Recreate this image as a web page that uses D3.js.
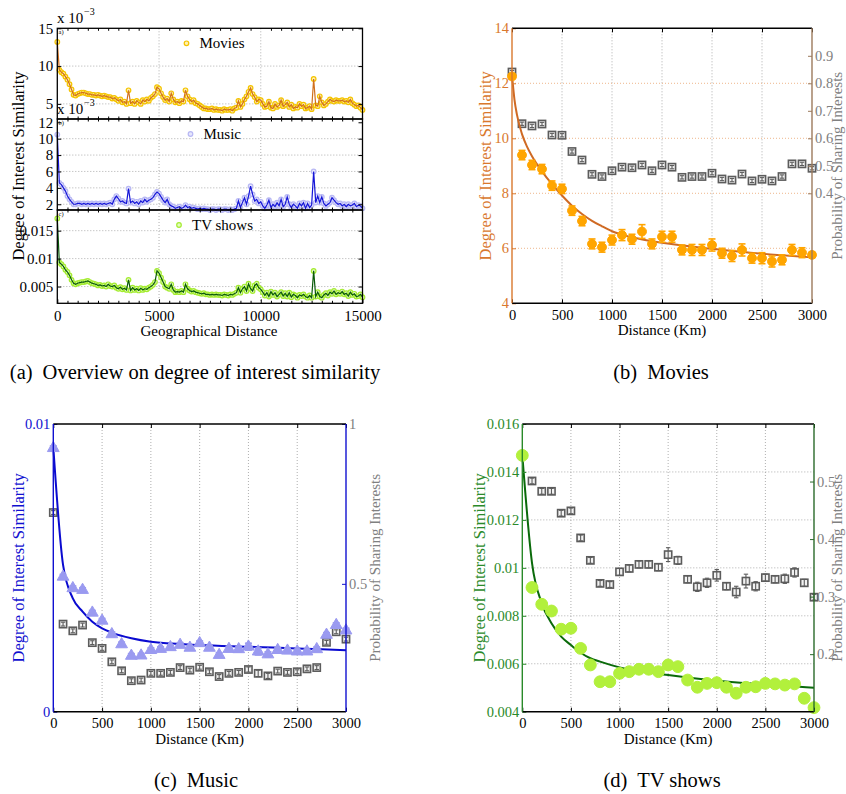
<!DOCTYPE html>
<html><head><meta charset="utf-8">
<script src="https://cdn.jsdelivr.net/npm/d3@7"></script>
<style>
body{margin:0;background:#fff;}
svg{display:block;}
</style></head><body>
<svg id="fig" width="846" height="794"></svg>
<script>
// ---------------- DATA ----------------
// Panel (a): geographical distance (km)
const geoDist = [
0,100,200,300,400,500,600,700,800,900,
1000,1100,1200,1300,1400,1500,1600,1700,1800,1900,
2000,2100,2200,2300,2400,2500,2600,2700,2800,2900,
3000,3100,3200,3300,3400,3500,3600,3700,3800,3900,
4000,4100,4200,4300,4400,4500,4600,4700,4800,4900,
5000,5100,5200,5300,5400,5500,5600,5700,5800,5900,
6000,6100,6200,6300,6400,6500,6600,6700,6800,6900,
7000,7100,7200,7300,7400,7500,7600,7700,7800,7900,
8000,8100,8200,8300,8400,8500,8600,8700,8800,8900,
9000,9100,9200,9300,9400,9500,9600,9700,9800,9900,
10000,10100,10200,10300,10400,10500,10600,10700,10800,10900,
11000,11100,11200,11300,11400,11500,11600,11700,11800,11900,
12000,12100,12200,12300,12400,12500,12600,12700,12800,12900,
13000,13100,13200,13300,13400,13500,13600,13700,13800,13900,
14000,14100,14200,14300,14400,14500,14600,14700,14800,14900,
15000];
// Movies (x 10^-3)
const geoMovies = [
13.2,9.5,9.2,9.0,8.6,8.2,7.6,6.9,6.2,6.1,
6.3,6.4,6.5,6.5,6.4,6.3,6.3,6.2,6.2,6.1,
6.2,6.1,6.0,6.1,6.0,5.9,5.9,5.7,5.8,5.6,
5.4,5.6,5.2,5.3,5.0,6.8,5.1,5.3,5.0,5.4,
5.2,5.0,5.5,5.3,5.6,5.4,5.8,6.0,6.3,7.2,
7.0,6.4,5.9,5.5,5.7,5.3,6.4,5.6,5.2,5.3,
5.1,5.4,5.3,6.8,6.0,5.6,5.3,5.5,5.1,5.0,
4.8,4.6,4.4,4.4,4.3,4.3,4.4,4.2,4.3,4.2,
4.2,4.1,4.3,4.2,4.2,4.3,4.1,4.4,4.5,5.4,
4.6,5.0,5.6,6.0,6.6,7.1,6.3,5.9,5.3,5.6,
5.5,5.0,4.6,4.7,5.3,4.5,4.4,5.0,4.6,4.8,
5.5,4.7,4.9,5.2,4.6,4.9,4.4,4.6,4.5,5.0,
4.7,4.9,4.4,4.5,4.7,4.3,8.3,4.8,4.7,6.0,
5.2,4.8,5.0,5.3,5.6,5.4,5.3,5.5,5.4,5.4,
5.5,5.3,5.4,5.2,5.6,5.1,4.9,4.7,4.8,4.5,
4.2];
// Music (x 10^-3)
const geoMusic = [
10.5,4.6,4.4,4.0,3.6,3.0,2.6,2.3,2.0,2.0,
2.1,2.1,2.0,2.1,2.0,2.1,2.0,2.1,2.0,2.1,
2.0,2.1,2.0,2.1,2.0,2.1,2.2,2.0,2.6,3.0,
2.7,2.3,2.4,2.2,2.1,3.9,2.2,2.4,2.1,2.3,
2.0,2.4,2.2,2.6,2.3,2.5,2.6,2.8,3.2,3.5,
3.3,2.9,2.5,2.2,2.6,2.0,1.8,1.7,1.5,1.6,
1.7,1.5,1.6,1.9,1.6,1.7,1.5,1.6,1.5,1.4,
1.5,1.4,1.5,1.4,1.4,1.3,1.4,1.4,1.3,1.4,
1.4,1.3,1.4,1.4,1.3,1.4,1.3,1.4,1.5,2.4,
1.6,2.2,2.8,2.0,3.0,4.2,3.2,2.4,2.6,2.1,
2.3,1.8,1.5,1.9,2.5,1.6,2.0,1.7,2.2,1.8,
2.6,1.7,2.0,2.9,2.0,1.6,2.0,1.8,1.5,2.1,
1.8,2.2,1.5,2.1,1.6,1.9,6.0,2.2,3.0,2.2,
2.9,2.1,1.8,2.0,2.2,2.8,2.5,2.2,2.0,2.1,
1.8,2.0,1.7,2.0,1.8,1.9,2.1,1.7,1.9,1.8,
1.5];
// TV shows
const geoTV = [
0.0172,0.0093,0.0090,0.0086,0.0080,0.0076,0.0070,0.0062,0.0056,0.0054,
0.0056,0.0057,0.0058,0.0058,0.0059,0.0060,0.0058,0.0056,0.0055,0.0054,
0.0052,0.0053,0.0051,0.0052,0.0050,0.0054,0.0051,0.0050,0.0052,0.0048,
0.0046,0.0049,0.0045,0.0047,0.0044,0.0062,0.0043,0.0048,0.0044,0.0046,
0.0043,0.0047,0.0044,0.0046,0.0045,0.0048,0.0050,0.0053,0.0058,0.0078,
0.0074,0.0066,0.0058,0.0050,0.0048,0.0046,0.0054,0.0044,0.0040,0.0041,
0.0040,0.0042,0.0040,0.0054,0.0046,0.0043,0.0041,0.0042,0.0040,0.0039,
0.0038,0.0037,0.0038,0.0036,0.0036,0.0035,0.0036,0.0035,0.0036,0.0035,
0.0035,0.0034,0.0036,0.0035,0.0034,0.0036,0.0035,0.0037,0.0039,0.0048,
0.0039,0.0046,0.0050,0.0042,0.0055,0.0046,0.0042,0.0052,0.0055,0.0048,
0.0045,0.0040,0.0034,0.0039,0.0032,0.0041,0.0035,0.0039,0.0032,0.0036,
0.0040,0.0033,0.0038,0.0032,0.0039,0.0031,0.0036,0.0034,0.0030,0.0035,
0.0033,0.0036,0.0032,0.0030,0.0034,0.0030,0.0078,0.0032,0.0040,0.0032,
0.0030,0.0035,0.0038,0.0034,0.0040,0.0037,0.0042,0.0036,0.0039,0.0037,
0.0041,0.0036,0.0038,0.0033,0.0040,0.0035,0.0037,0.0032,0.0033,0.0036,
0.0031];

// Panels (b)-(d): distance bins (km)
const distKm = [0,100,200,300,400,500,600,700,800,900,1000,1100,1200,1300,1400,1500,
  1600,1700,1800,1900,2000,2100,2200,2300,2400,2500,2600,2700,2800,2900,3000];
const distTicks = [0,500,1000,1500,2000,2500,3000];

// (b) Movies: degree of interest similarity (x 10^-3), error, probability of sharing interests
const movieDeg = [12.25,9.39,9.03,8.88,8.28,8.16,7.37,6.99,6.16,6.04,6.30,6.48,6.33,6.61,6.16,6.42,
  6.42,5.94,5.94,5.94,6.12,5.82,5.72,5.94,5.64,5.64,5.52,5.58,5.94,5.84,5.76];
const movieErr = [0.1,0.17,0.17,0.17,0.17,0.17,0.17,0.17,0.18,0.18,0.18,0.2,0.18,0.25,0.18,0.2,
  0.2,0.18,0.2,0.2,0.22,0.18,0.2,0.22,0.18,0.2,0.2,0.18,0.2,0.18,0.1];
const movieProb = [0.841,0.653,0.645,0.652,0.612,0.611,0.552,0.521,0.469,0.461,0.482,0.495,0.493,0.503,0.482,0.503,
  0.495,0.458,0.461,0.461,0.473,0.452,0.448,0.470,0.445,0.451,0.445,0.461,0.507,0.507,0.491];
const movieProbErr = [0.006,0.006,0.006,0.006,0.006,0.006,0.006,0.006,0.006,0.006,0.006,0.006,0.006,0.006,0.006,0.006,
  0.006,0.006,0.006,0.006,0.006,0.006,0.006,0.006,0.006,0.006,0.006,0.006,0.006,0.006,0.006];
const movieFitKm  = [0,25,50,100,150,200,300,400,500,600,700,800,900,1000,1200,1500,2000,2500,3000];
const movieFitDeg = [12.3,11.4,10.85,10.15,9.7,9.35,8.8,8.33,7.92,7.55,7.25,7.0,6.8,6.62,6.4,6.2,5.98,5.8,5.67];

// (c) Music
const musicDeg = [0.00916,0.00469,0.00429,0.00423,0.00344,0.00316,0.00269,0.00234,0.00194,0.00195,0.00214,0.00218,
  0.00224,0.00232,0.00222,0.00238,0.00222,0.00197,0.00218,0.00217,0.00226,0.00209,0.00199,0.00214,0.00212,0.00209,
  0.00209,0.00217,0.00267,0.00301,0.00282];
const musicErr = [0.00008,0.00008,0.00008,0.00008,0.00008,0.00008,0.00008,0.00008,0.00008,0.00008,0.00008,0.00008,
  0.00008,0.00008,0.00008,0.00008,0.00008,0.00008,0.00009,0.00009,0.00012,0.00012,0.00009,0.00008,0.00009,0.00008,
  0.00008,0.00008,0.00008,0.00008,0.00008];
const musicProb = [0.723,0.374,0.353,0.371,0.316,0.298,0.256,0.228,0.197,0.199,0.220,0.220,0.223,0.238,0.230,0.239,
  0.225,0.210,0.220,0.223,0.232,0.220,0.212,0.227,0.223,0.225,0.234,0.238,0.317,0.350,0.327];
const musicProbErr = [0.006,0.006,0.006,0.006,0.006,0.006,0.006,0.006,0.006,0.006,0.006,0.006,0.006,0.006,0.006,0.006,
  0.006,0.006,0.006,0.006,0.008,0.01,0.008,0.006,0.006,0.006,0.006,0.006,0.006,0.006,0.006];
const musicFitKm  = [0,100,200,300,400,500,600,800,1000,1500,2000,2500,3000];
const musicFitDeg = [0.0092,0.0051,0.00394,0.00348,0.00313,0.0029,0.00275,0.00255,0.00243,0.00232,0.00226,0.0022,0.00214];

// (d) TV shows
const tvDeg = [0.01469,0.00918,0.00848,0.00820,0.00744,0.00748,0.00664,0.00595,0.00525,0.00525,0.00560,0.00567,
  0.00577,0.00577,0.00567,0.00595,0.00588,0.00532,0.00502,0.00518,0.00521,0.00502,0.00477,0.00502,0.00504,0.00518,
  0.00516,0.00511,0.00516,0.00456,0.00417];
const tvProb = [null,0.501,0.483,0.483,0.445,0.449,0.402,0.363,0.323,0.321,0.343,0.349,0.356,0.356,0.351,0.373,
  0.363,0.330,0.317,0.324,0.337,0.318,0.308,0.327,0.318,0.333,0.330,0.331,0.342,0.324,0.299];
const tvProbErr = [0,0.005,0.005,0.005,0.005,0.005,0.005,0.005,0.005,0.005,0.006,0.006,0.006,0.006,0.006,0.012,
  0.007,0.006,0.008,0.008,0.01,0.006,0.01,0.012,0.008,0.006,0.006,0.008,0.008,0.006,0.005];
const tvFitKm  = [0,100,200,300,400,500,600,700,800,1000,1500,2000,2500,3000];
const tvFitDeg = [0.0147,0.0102,0.00852,0.00769,0.00713,0.00678,0.00646,0.00623,0.00609,0.00585,0.00553,0.00529,0.00514,0.005];

// ---------------- DRAWING ----------------
const FONT = "'Liberation Serif','Times New Roman',serif";
const svg = d3.select("#fig").attr("font-family", FONT);

function label(g, x, y, s, o = {}) {
  const t = g.append("text").attr("x", x).attr("y", y).text(s)
    .attr("font-size", o.size || 15).attr("fill", o.color || "#000")
    .attr("text-anchor", o.anchor || "middle");
  if (o.rotate) t.attr("transform", `rotate(-90,${x},${y})`);
  return t;
}
function styleAxis(sel, tickColor, textColor, size) {
  sel.select(".domain").remove();
  sel.selectAll(".tick line").attr("stroke", tickColor).attr("stroke-width", 1);
  sel.selectAll(".tick text").attr("fill", textColor).attr("font-size", size || 14).attr("font-family", FONT);
}
function xPow(g, x, y, color) {
  label(g, x, y, "x 10", {size: 15, color, anchor: "start"});
  label(g, x + 27, y - 8, "\u22123", {size: 10, color, anchor: "start"});
}

// ---------- Panel (a) ----------
const ax = d3.scaleLinear().domain([0, 15000]).range([57.3, 362.5]);
const geoTicks = [0, 5000, 10000, 15000];
const geoMinor = [500,1000,1500,2000,2500,3000,3500,4000,4500,5500,6000,6500,7000,7500,8000,8500,9000,9500,
  10500,11000,11500,12000,12500,13000,13500,14000,14500];

function overviewSub(p) {
  const g = svg.append("g");
  const y = d3.scaleLinear().domain(p.dom).range([p.bottom, p.top]);
  // grid
  g.selectAll(".hg").data(p.grid).join("line")
    .attr("x1", ax(0)).attr("x2", ax(15000)).attr("y1", d => y(d)).attr("y2", d => y(d))
    .attr("stroke", "#9a9a9a").attr("stroke-width", 0.8).attr("stroke-dasharray", "1,2");
  g.selectAll(".vg").data([5000, 10000]).join("line")
    .attr("x1", d => ax(d)).attr("x2", d => ax(d)).attr("y1", p.top).attr("y2", p.bottom)
    .attr("stroke", "#9a9a9a").attr("stroke-width", 0.8).attr("stroke-dasharray", "1,2");
  const pts = geoDist.map((d, i) => ({d, v: p.vals[i]}));
  g.append("g").selectAll("circle").data(pts).join("circle")
    .attr("cx", d => ax(d.d)).attr("cy", d => y(d.v)).attr("r", 2.3)
    .attr("fill", p.fill).attr("stroke", p.circ).attr("stroke-width", 1.2);
  g.append("path").datum(pts)
    .attr("d", d3.line().x(d => ax(d.d)).y(d => y(d.v)))
    .attr("fill", "none").attr("stroke", p.line).attr("stroke-width", 1.2);
  // axes
  const la = g.append("g").attr("transform", `translate(${ax(0)},0)`)
    .call(d3.axisLeft(y).tickValues(p.ticks).tickFormat(p.fmt).tickSizeInner(-4).tickSizeOuter(0).tickPadding(4));
  styleAxis(la, "#000", "#000", 15);
  const ra = g.append("g").attr("transform", `translate(${ax(15000)},0)`)
    .call(d3.axisRight(y).tickValues(p.ticks).tickFormat("").tickSizeInner(-4).tickSizeOuter(0));
  styleAxis(ra, "#000", "#000");
  const ba = g.append("g").attr("transform", `translate(0,${p.bottom})`)
    .call(d3.axisBottom(ax).tickValues(geoMinor).tickFormat("").tickSizeInner(-2.5).tickSizeOuter(0));
  styleAxis(ba, "#000", "#000");
  const ta = g.append("g").attr("transform", `translate(0,${p.top})`)
    .call(d3.axisTop(ax).tickValues(geoMinor).tickFormat("").tickSizeInner(-2.5).tickSizeOuter(0));
  styleAxis(ta, "#000", "#000");
  if (p.xlabels) {
    const xa = g.append("g").attr("transform", `translate(0,${p.bottom})`)
      .call(d3.axisBottom(ax).tickValues(geoTicks).tickFormat(d3.format("d")).tickSizeInner(-4).tickSizeOuter(0).tickPadding(7));
    styleAxis(xa, "#000", "#000", 15);
  }
  g.append("rect").attr("x", ax(0)).attr("y", p.top).attr("width", ax(15000) - ax(0)).attr("height", p.bottom - p.top)
    .attr("fill", "none").attr("stroke", "#000").attr("stroke-width", 1.3);
  // legend
  g.append("circle").attr("cx", p.legX).attr("cy", p.top + 15).attr("r", 2.3)
    .attr("fill", p.fill).attr("stroke", p.circ).attr("stroke-width", 1.2);
  label(g, p.legX + 13, p.top + 20, p.name, {size: 15, anchor: "start"});
  label(g, 58.5, p.top + 5.5, p.tag, {size: 6.5, anchor: "start"});
}

overviewSub({top: 28.3, bottom: 119, dom: [3, 15], ticks: [5, 10, 15], grid: [5, 10], fmt: d3.format("d"),
  vals: geoMovies, circ: "#f4c300", fill: "#fff1b0", line: "#d0701e", name: "Movies", legX: 186.5, tag: "a)"});
overviewSub({top: 119, bottom: 210, dom: [1.3, 12.4], ticks: [2, 4, 6, 8, 10, 12], grid: [2, 4, 6, 8, 10],
  fmt: d3.format("d"), vals: geoMusic, circ: "#b8b8f4", fill: "#e6e6fc", line: "#1616d8", name: "Music", legX: 190.5, tag: "b)"});
overviewSub({top: 210, bottom: 303.3, dom: [0.002, 0.0187], ticks: [0.005, 0.01, 0.015], grid: [0.005, 0.01, 0.015],
  fmt: d => String(+d.toFixed(3)), vals: geoTV, circ: "#a4ec30", fill: "#e4fbc0", line: "#0a5a0a", name: "TV shows", legX: 179, tag: "c)", xlabels: true});
{
  const g = svg.append("g");
  xPow(g, 57, 23, "#000");
  xPow(g, 57, 114, "#000");
  label(g, 209, 336, "Geographical Distance", {size: 15});
  label(g, 24, 166, "Degree of Interest Similarity", {size: 16.5, rotate: true});
}

// ---------- Panels (b)-(d) ----------
function distPanel(p) {
  const g = svg.append("g");
  const x = d3.scaleLinear().domain([0, 3000]).range([p.left, p.right]);
  const yL = d3.scaleLinear().domain(p.lDom).range([p.bottom, p.top]);
  const yR = d3.scaleLinear().domain(p.rDom).range([p.bottom, p.top]);
  // grid
  g.selectAll(".vg").data(distTicks.slice(1, -1)).join("line")
    .attr("x1", d => x(d)).attr("x2", d => x(d)).attr("y1", p.top).attr("y2", p.bottom)
    .attr("stroke", "#9a9a9a").attr("stroke-width", 0.8).attr("stroke-dasharray", "1,2");
  g.selectAll(".hg").data(p.hGrid).join("line")
    .attr("x1", p.left).attr("x2", p.right).attr("y1", d => yL(d)).attr("y2", d => yL(d))
    .attr("stroke", p.hGridColor).attr("stroke-width", 0.8).attr("stroke-dasharray", "1,2");
  // probability (grey squares with error bars)
  const pr = distKm.map((d, i) => ({d, v: p.prob[i], e: p.probErr[i]})).filter(d => d.v != null);
  const gp = g.append("g");
  gp.selectAll("rect").data(pr).join("rect")
    .attr("x", d => x(d.d) - 3.6).attr("y", d => yR(d.v) - 3.6).attr("width", 7.2).attr("height", 7.2)
    .attr("fill", "#f2f2f2").attr("stroke", "#5c5c5c").attr("stroke-width", 1.6);
  gp.selectAll(".ev").data(pr).join("line")
    .attr("x1", d => x(d.d)).attr("x2", d => x(d.d))
    .attr("y1", d => yR(d.v - d.e)).attr("y2", d => yR(d.v + d.e)).attr("stroke", "#5c5c5c").attr("stroke-width", 1.1);
  gp.selectAll(".ct").data(pr.flatMap(d => [d.v - d.e, d.v + d.e].map(v => ({d: d.d, v})))).join("line")
    .attr("x1", d => x(d.d) - 2.2).attr("x2", d => x(d.d) + 2.2)
    .attr("y1", d => yR(d.v)).attr("y2", d => yR(d.v)).attr("stroke", "#5c5c5c").attr("stroke-width", 1.1);
  // fit curve
  g.append("path").datum(p.fitKm.map((d, i) => ({d, v: p.fit[i]})))
    .attr("d", d3.line().x(d => x(d.d)).y(d => yL(d.v)).curve(d3.curveMonotoneX))
    .attr("fill", "none").attr("stroke", p.fitColor).attr("stroke-width", 2);
  // similarity markers
  const sm = distKm.map((d, i) => ({d, v: p.deg[i], e: p.err ? p.err[i] : 0}));
  const gs = g.append("g");
  if (p.err) {
    gs.selectAll(".ev").data(sm).join("line")
      .attr("x1", d => x(d.d)).attr("x2", d => x(d.d))
      .attr("y1", d => yL(d.v - d.e)).attr("y2", d => yL(d.v + d.e)).attr("stroke", p.mColor).attr("stroke-width", 1.6);
    gs.selectAll(".ct").data(sm.flatMap(d => [d.v - d.e, d.v + d.e].map(v => ({d: d.d, v})))).join("line")
      .attr("x1", d => x(d.d) - 3.5).attr("x2", d => x(d.d) + 3.5)
      .attr("y1", d => yL(d.v)).attr("y2", d => yL(d.v)).attr("stroke", p.mColor).attr("stroke-width", 1.6);
  }
  gs.selectAll("path.m").data(sm).join("path").attr("class", "m")
    .attr("transform", d => `translate(${x(d.d)},${yL(d.v)})`)
    .attr("d", d3.symbol().type(p.symbol).size(p.symSize))
    .attr("fill", p.mColor).attr("stroke", p.mColor).attr("stroke-width", 1);
  // axes
  const ba = g.append("g").attr("transform", `translate(0,${p.bottom})`)
    .call(d3.axisBottom(x).tickValues(distTicks).tickFormat(d3.format("d")).tickSizeInner(-4).tickSizeOuter(0).tickPadding(6));
  styleAxis(ba, "#000", "#000", 14.5);
  const ta = g.append("g").attr("transform", `translate(0,${p.top})`)
    .call(d3.axisTop(x).tickValues(distTicks).tickFormat("").tickSizeInner(-4).tickSizeOuter(0));
  styleAxis(ta, "#000", "#000");
  const la = g.append("g").attr("transform", `translate(${p.left},0)`)
    .call(d3.axisLeft(yL).tickValues(p.lTicks).tickFormat(p.lFmt).tickSizeInner(-4).tickSizeOuter(0).tickPadding(3));
  styleAxis(la, p.lColor, p.lColor, 14.5);
  const ra = g.append("g").attr("transform", `translate(${p.right},0)`)
    .call(d3.axisRight(yR).tickValues(p.rTicks).tickFormat(p.rFmt).tickSizeInner(-4).tickSizeOuter(0).tickPadding(3));
  styleAxis(ra, p.rColor, "#808080", 14.5);
  // frame
  g.append("line").attr("x1", p.left).attr("x2", p.right).attr("y1", p.top).attr("y2", p.top).attr("stroke", "#000").attr("stroke-width", 1.4);
  g.append("line").attr("x1", p.left).attr("x2", p.right).attr("y1", p.bottom).attr("y2", p.bottom).attr("stroke", "#000").attr("stroke-width", 1.4);
  g.append("line").attr("x1", p.left).attr("x2", p.left).attr("y1", p.top).attr("y2", p.bottom).attr("stroke", p.lColor).attr("stroke-width", 1.4);
  g.append("line").attr("x1", p.right).attr("x2", p.right).attr("y1", p.top).attr("y2", p.bottom).attr("stroke", p.rColor).attr("stroke-width", 1.4);
  // labels
  const cy = (p.top + p.bottom) / 2;
  label(g, (p.left + p.right) / 2, p.bottom + 32, "Distance (Km)", {size: 15});
  label(g, p.lLabX, cy, "Degree of Interest Similarity", {size: 16.5, color: p.lColor, rotate: true});
  label(g, p.rLabX, cy, "Probability of Sharing Interests", {size: 15, color: "#808080", rotate: true});
  if (p.pow) xPow(g, p.left, 20, p.lColor);
}

const fmtStr = d => String(d);
distPanel({left: 512, right: 812, top: 28.3, bottom: 303.3, lDom: [4, 14], rDom: [0, 1],
  lTicks: [4, 6, 8, 10, 12, 14], lFmt: fmtStr, rTicks: [0.4, 0.5, 0.6, 0.7, 0.8, 0.9], rFmt: fmtStr,
  hGrid: [6, 8, 10, 12], hGridColor: "#eba56e",
  deg: movieDeg, err: movieErr, prob: movieProb, probErr: movieProbErr, fitKm: movieFitKm, fit: movieFitDeg,
  lColor: "#d9782d", rColor: "#9c7a5c", fitColor: "#cf6a24", mColor: "#ffa500",
  symbol: d3.symbolCircle, symSize: 62, lLabX: 491, rLabX: 842});
distPanel({left: 53.3, right: 346, top: 424, bottom: 711.7, lDom: [0, 0.01], rDom: [0.1, 1],
  lTicks: [0, 0.01], lFmt: fmtStr, rTicks: [0.5, 1], rFmt: fmtStr,
  hGrid: [], hGridColor: "#9a9a9a",
  deg: musicDeg, err: musicErr, prob: musicProb, probErr: musicProbErr, fitKm: musicFitKm, fit: musicFitDeg,
  lColor: "#1010d0", rColor: "#1010d0", fitColor: "#0a0ad0", mColor: "#9a9af0",
  symbol: d3.symbolTriangle, symSize: 60, lLabX: 24, rLabX: 380});
distPanel({left: 522.3, right: 814, top: 424, bottom: 711.7, lDom: [0.004, 0.016], rDom: [0.1, 0.6],
  lTicks: [0.004, 0.006, 0.008, 0.01, 0.012, 0.014, 0.016], lFmt: fmtStr, rTicks: [0.2, 0.3, 0.4, 0.5], rFmt: fmtStr,
  hGrid: [0.006, 0.008, 0.01, 0.012, 0.014], hGridColor: "#9a9a9a",
  deg: tvDeg, err: null, prob: tvProb, probErr: tvProbErr, fitKm: tvFitKm, fit: tvFitDeg,
  lColor: "#2a8a2a", rColor: "#2a6a2a", fitColor: "#0a6a0a", mColor: "#b2f03c",
  symbol: d3.symbolCircle, symSize: 110, lLabX: 485, rLabX: 842});

// captions
{
  const g = svg.append("g");
  const cap = (cx, y, a, b) => {
    const t = g.append("text").attr("x", cx).attr("y", y).attr("text-anchor", "middle").attr("font-size", 20.5);
    t.append("tspan").text(a);
    t.append("tspan").attr("dx", 10).text(b);
  };
  cap(195, 379, "(a)", "Overview on degree of interest similarity");
  cap(661, 379, "(b)", "Movies");
  cap(196, 787, "(c)", "Music");
  cap(662, 787, "(d)", "TV shows");
}
</script>
</body></html>
